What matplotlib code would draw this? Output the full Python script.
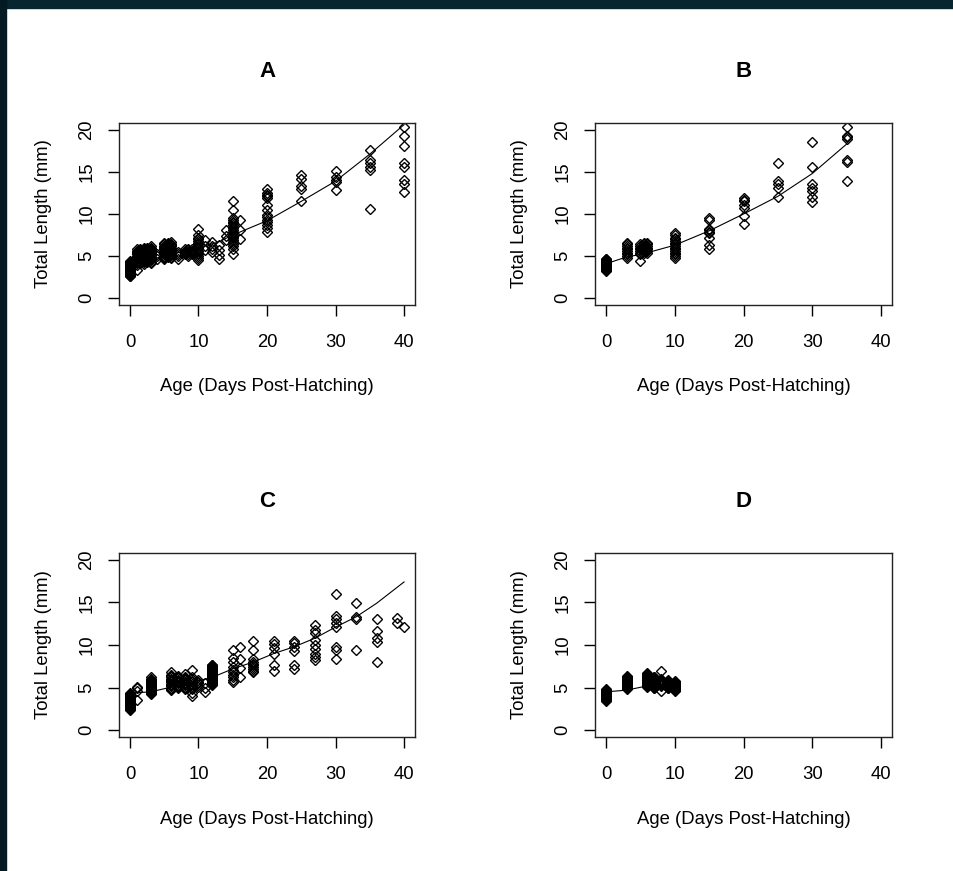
import matplotlib.pyplot as plt
import numpy as np
from matplotlib.patches import Rectangle

plt.rcParams['font.family'] = ['Liberation Sans', 'DejaVu Sans']

# --- panel A ---
a_ages = [0, 1, 1.5, 2, 2.5, 3, 4, 5, 5.5, 6, 7, 8, 8.5, 9, 10, 11, 12, 13, 14, 15, 16, 20, 25, 30, 35, 40]
a_lengths = [
    [2.6, 2.7, 2.8, 2.9, 3.0, 3.1, 3.2, 3.3, 3.4, 3.5, 3.6, 3.7, 3.8, 3.9, 4.0, 4.1, 4.2, 4.3, 4.4],
    [3.3, 4.0, 4.15, 4.3, 4.45, 4.6, 4.75, 4.9, 5.05, 5.2, 5.35, 5.5, 5.65, 5.8],
    [4.2, 4.35, 4.5, 4.65, 4.8, 4.95, 5.1, 5.25, 5.4, 5.55, 5.7, 5.9],
    [4.1, 4.25, 4.4, 4.55, 4.7, 4.85, 5.0, 5.15, 5.3, 5.45, 5.6, 5.75, 5.9, 6.0],
    [4.3, 4.45, 4.6, 4.75, 4.9, 5.05, 5.2, 5.35, 5.5, 5.65, 5.8, 5.95],
    [4.2, 4.35, 4.5, 4.65, 4.8, 4.95, 5.1, 5.25, 5.4, 5.55, 5.7, 5.85, 6.0, 6.2],
    [4.6, 5.0, 5.3],
    [4.6, 4.75, 4.9, 5.05, 5.2, 5.35, 5.5, 5.65, 5.8, 5.95, 6.1, 6.25, 6.4, 6.6],
    [4.9, 5.05, 5.2, 5.35, 5.5, 5.65, 5.8, 5.95, 6.1, 6.25, 6.4, 6.55],
    [4.8, 4.95, 5.1, 5.25, 5.4, 5.55, 5.7, 5.85, 6.0, 6.15, 6.3, 6.45, 6.7],
    [4.6, 5.0, 5.3, 5.5],
    [5.2, 5.35, 5.5, 5.65, 5.8],
    [5.0, 5.3, 5.5, 5.7, 5.9],
    [5.2, 5.35, 5.5, 5.65, 5.8],
    [4.5, 4.8, 5.0, 5.2, 5.4, 5.6, 5.8, 6.0, 6.2, 6.4, 6.6, 6.8, 7.0, 7.2, 7.5, 8.2],
    [5.7, 6.2, 6.9],
    [5.5, 5.9, 6.2, 6.7],
    [4.7, 5.1, 5.7, 6.3],
    [6.9, 7.4, 8.1],
    [5.3, 5.9, 6.2, 6.45, 6.7, 6.9, 7.1, 7.3, 7.5, 7.7, 7.9, 8.1, 8.3, 8.5, 8.7, 8.9, 9.1, 9.3, 9.5,
     10.5, 11.6],
    [7.0, 8.1, 9.3],
    [7.9, 8.3, 8.7, 9.0, 9.3, 9.6, 9.9, 10.5, 11.1, 11.9, 12.1, 12.3, 12.5, 13.0],
    [11.6, 13.0, 13.3, 14.2, 14.6],
    [12.9, 13.8, 14.0, 14.4, 15.1],
    [10.6, 15.2, 15.6, 16.0, 16.4, 17.6],
    [12.6, 13.6, 14.0, 15.6, 16.1, 18.1, 19.3, 20.3],
]
a_fit_age = [0, 5, 10, 13, 15, 20, 25, 30, 35, 40]
a_fit_len = [4.0, 5.0, 6.0, 6.7, 7.5, 9.2, 11.5, 13.9, 17.1, 20.6]

# --- panel B ---
b_ages = [0, 3, 5, 5.5, 6, 10, 15, 20, 25, 30, 35]
b_lengths = [
    [3.2, 3.3, 3.4, 3.5, 3.6, 3.7, 3.8, 3.9, 4.0, 4.1, 4.2, 4.3, 4.4, 4.5, 4.6, 4.7],
    [4.8, 5.0, 5.2, 5.4, 5.6, 5.8, 6.0, 6.2, 6.4, 6.6],
    [4.4, 5.2, 5.4, 5.6, 5.8, 6.0, 6.2, 6.4],
    [5.4, 5.6, 5.8, 6.0, 6.2, 6.4, 6.5],
    [5.4, 5.6, 5.8, 6.0, 6.2, 6.4, 6.5],
    [4.8, 5.0, 5.2, 5.4, 5.6, 5.8, 6.0, 6.2, 6.4, 6.6, 6.8, 7.0, 7.2, 7.5, 7.8],
    [5.9, 6.3, 7.1, 7.7, 7.9, 8.1, 8.2, 9.3, 9.5],
    [8.8, 9.8, 10.7, 11.1, 11.5, 11.7, 11.9],
    [12.0, 13.1, 13.6, 13.9, 16.1],
    [11.4, 12.0, 12.7, 13.1, 13.6, 15.6, 18.6],
    [13.9, 16.2, 16.4, 18.9, 19.1, 19.2, 20.3],
]
b_fit_age = [0, 3, 5, 6, 10, 15, 20, 25, 30, 35]
b_fit_len = [4.1, 4.9, 5.2, 5.4, 6.3, 8.0, 10.0, 12.1, 14.8, 18.3]

# --- panel C ---
c_ages = [0, 1, 3, 6, 7, 8, 9, 10, 11, 12, 15, 16, 18, 21, 24, 27, 30, 33, 36, 39, 40]
c_lengths = [
    [2.4, 2.5, 2.6, 2.7, 2.8, 2.9, 3.0, 3.1, 3.2, 3.3, 3.4, 3.5, 3.6, 3.7, 3.8, 3.9, 4.0, 4.1, 4.2,
     4.3, 4.4],
    [3.6, 4.6, 4.9, 5.1],
    [4.3, 4.4, 4.5, 4.6, 4.7, 4.8, 4.9, 5.0, 5.1, 5.2, 5.3, 5.4, 5.5, 5.6, 5.7, 5.8, 5.9, 6.0, 6.2],
    [4.7, 4.85, 5.0, 5.15, 5.3, 5.45, 5.6, 5.75, 5.9, 6.05, 6.2, 6.35, 6.5, 6.8],
    [4.9, 5.05, 5.2, 5.35, 5.5, 5.65, 5.8, 5.95, 6.1, 6.25, 6.4],
    [4.8, 4.95, 5.1, 5.25, 5.4, 5.55, 5.7, 5.85, 6.0, 6.15, 6.3, 6.6],
    [4.0, 4.4, 4.8, 5.0, 5.2, 5.4, 5.6, 5.8, 6.0, 6.3, 7.1],
    [5.1, 5.3, 5.5, 5.7, 5.9],
    [4.5, 4.9, 5.5],
    [5.3, 5.4, 5.5, 5.6, 5.7, 5.8, 5.9, 6.0, 6.1, 6.2, 6.3, 6.4, 6.5, 6.6, 6.7, 6.8, 6.9, 7.0, 7.1,
     7.2, 7.3, 7.4, 7.5, 7.6, 7.7],
    [5.6, 5.9, 6.2, 6.5, 6.8, 7.1, 7.4, 8.0, 8.5, 9.4],
    [6.2, 7.3, 8.4, 9.8],
    [6.8, 7.0, 7.2, 7.4, 7.6, 7.8, 8.0, 8.4, 9.4, 10.5],
    [7.0, 7.6, 9.0, 9.6, 10.1, 10.5],
    [7.2, 7.6, 9.3, 9.8, 10.2, 10.5],
    [8.2, 8.6, 9.0, 9.5, 10.0, 10.6, 11.4, 11.8, 12.3],
    [8.4, 9.4, 9.8, 12.1, 12.6, 13.1, 13.4, 16.0],
    [9.4, 13.1, 13.3, 14.9],
    [8.0, 10.4, 10.8, 11.6, 13.0],
    [12.6, 13.2],
    [12.1],
]
c_fit_age = [0, 1, 3, 6, 9, 12, 15, 18, 21, 24, 27, 30, 33, 36, 40]
c_fit_len = [4.3, 4.4, 4.5, 5.05, 5.6, 6.2, 7.2, 8.0, 9.0, 9.8, 10.8, 12.1, 13.3, 14.9, 17.4]

# --- panel D ---
d_ages = [0, 3, 6, 7, 8, 9, 10]
d_lengths = [
    [3.4, 3.5, 3.6, 3.7, 3.8, 3.9, 4.0, 4.1, 4.2, 4.3, 4.4, 4.5, 4.6, 4.7, 4.8],
    [4.8, 4.9, 5.0, 5.1, 5.2, 5.3, 5.4, 5.5, 5.6, 5.7, 5.8, 5.9, 6.0, 6.1, 6.2, 6.3, 6.4],
    [5.1, 5.2, 5.3, 5.4, 5.5, 5.6, 5.7, 5.8, 5.9, 6.0, 6.1, 6.2, 6.3, 6.4, 6.5, 6.6, 6.7],
    [4.9, 5.0, 5.1, 5.2, 5.3, 5.4, 5.5, 5.6, 5.7, 5.8, 5.9, 6.0, 6.1, 6.2, 6.3],
    [4.6, 5.2, 5.3, 5.4, 5.5, 5.6, 5.7, 5.8, 5.9, 6.0, 7.0],
    [4.9, 5.0, 5.1, 5.2, 5.3, 5.4, 5.5, 5.6, 5.7, 5.8, 5.9],
    [4.6, 4.7, 4.8, 4.9, 5.0, 5.1, 5.2, 5.3, 5.4, 5.5, 5.6, 5.8],
]
d_fit_age = [0, 3, 6, 7, 8, 9, 10]
d_fit_len = [4.5, 4.7, 5.2, 5.3, 5.4, 5.5, 5.6]

panels = [
    ('A', a_ages, a_lengths, a_fit_age, a_fit_len),
    ('B', b_ages, b_lengths, b_fit_age, b_fit_len),
    ('C', c_ages, c_lengths, c_fit_age, c_fit_len),
    ('D', d_ages, d_lengths, d_fit_age, d_fit_len),
]

W, H = 954, 871
fig = plt.figure(figsize=(W / 100, H / 100), dpi=100)

# dark frame of the screenshot (top and left strips)
fig.patches.append(Rectangle((0, 1 - 8 / H), 1, 8 / H, transform=fig.transFigure,
                             color='#06252e', zorder=0))
fig.patches.append(Rectangle((0, 0), 6 / W, 1, transform=fig.transFigure,
                             color='#041a22', zorder=0))

# axes boxes in pixels: left, top, right, bottom
boxes = [(119, 123, 415, 305), (595, 123, 892, 305),
         (119, 553, 415, 737), (595, 553, 892, 737)]

for (name, ages, lengths, fit_x, fit_y), (l, t, r, b) in zip(panels, boxes):
    ax = fig.add_axes([l / W, 1 - b / H, (r - l) / W, (b - t) / H])
    xs = np.concatenate([[a] * len(v) for a, v in zip(ages, lengths)])
    ys = np.concatenate(lengths)
    ax.plot(xs, ys, linestyle='none', marker='D', ms=5.6, mfc='none',
            mec='black', mew=1.0)
    ax.plot(fit_x, fit_y, color='black', lw=0.8)

    ax.set_xlim(-1.6, 41.6)
    ax.set_ylim(-0.8, 20.8)
    ax.set_xticks([0, 10, 20, 30, 40])
    ax.set_yticks([0, 5, 10, 15, 20])
    ax.tick_params(direction='out', length=8, width=1, labelsize=13.3,
                   colors='black')
    ax.tick_params(axis='x', pad=13)
    ax.tick_params(axis='y', pad=9)
    for lab in ax.get_yticklabels():
        lab.set_rotation(90)
        lab.set_va('center')
    for sp in ax.spines.values():
        sp.set_linewidth(1.0)
        sp.set_color('#222222')

    ax.set_title(name, fontsize=16, fontweight='bold', pad=33)
    ax.set_xlabel('Age (Days Post-Hatching)', fontsize=13.3)
    ax.set_ylabel('Total Length (mm)', fontsize=13.3)
    ax.xaxis.set_label_coords(0.5, -0.40)
    ax.yaxis.set_label_coords(-0.225, 0.5)

fig.savefig('out.png', dpi=100)
